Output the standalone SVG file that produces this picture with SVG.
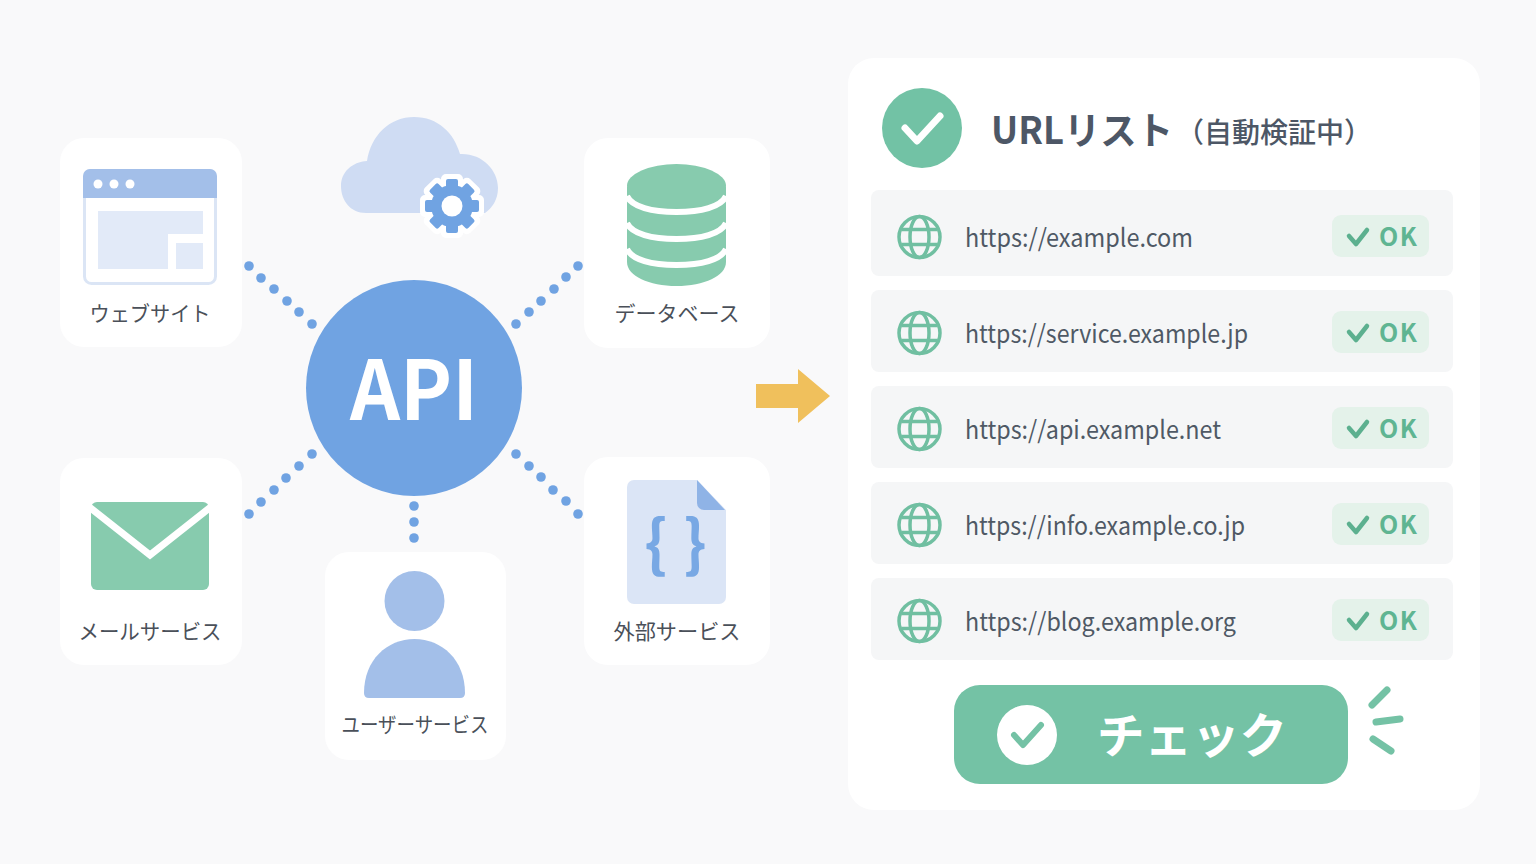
<svg xmlns="http://www.w3.org/2000/svg" width="1536" height="864" viewBox="0 0 1536 864">
<style>
.card{fill:#fff}
.lbl{font-family:"Noto Sans CJK JP","Noto Sans",sans-serif;font-size:21px;fill:#4a5059;text-anchor:middle}
.row{fill:#f5f6f7}
.url{font-family:"Noto Sans CJK JP","Noto Sans",sans-serif;font-size:25px;fill:#4f5965}
.badge{fill:#e4f2ea}
.ok{font-family:"Noto Sans CJK JP","Noto Sans",sans-serif;font-size:25px;font-weight:700;fill:#5fb592;letter-spacing:1.500px}
.gl{fill:none;stroke:#70bfa1;stroke-width:3.5}
.tick{fill:none;stroke:#5cb08f;stroke-width:4.5;stroke-linecap:round;stroke-linejoin:round}
.dot{fill:#70a3e2}
.spark{stroke:#74c2a5;stroke-width:7;stroke-linecap:round}
.cjkb{font-family:"Noto Sans CJK JP",sans-serif}
</style>
<defs>
<g id="globe">
<circle class="gl" cx="0" cy="0" r="20.5"/>
<ellipse class="gl" cx="0" cy="0" rx="9.500" ry="20.5"/>
<path class="gl" d="M-18-7.500H18M-18 7.500H18"/>
</g>
<g id="okb">
<rect class="badge" x="1332" y="-22" width="97" height="42" rx="9"/>
<path class="tick" d="M1349-1l7 8 11-14"/>
<text class="ok" x="1379" y="9">OK</text>
</g>
</defs>
<rect width="1536" height="864" fill="#f9f9fa"/>

<g id="connectors" class="dot">
<circle cx="249" cy="266" r="4.8"/><circle cx="261" cy="278" r="4.8"/><circle cx="274" cy="289" r="4.8"/><circle cx="287" cy="301" r="4.8"/><circle cx="299" cy="312" r="4.8"/><circle cx="312" cy="324" r="4.8"/>
<circle cx="516" cy="324" r="4.8"/><circle cx="529" cy="312" r="4.8"/><circle cx="541" cy="301" r="4.8"/><circle cx="554" cy="289" r="4.8"/><circle cx="566" cy="277" r="4.8"/><circle cx="578" cy="266" r="4.8"/>
<circle cx="249" cy="514" r="4.8"/><circle cx="261" cy="502" r="4.8"/><circle cx="274" cy="490" r="4.8"/><circle cx="286" cy="478" r="4.8"/><circle cx="299" cy="466" r="4.8"/><circle cx="312" cy="454" r="4.8"/>
<circle cx="516" cy="454" r="4.8"/><circle cx="529" cy="466" r="4.8"/><circle cx="541" cy="477" r="4.8"/><circle cx="553" cy="490" r="4.8"/><circle cx="566" cy="501" r="4.8"/><circle cx="578" cy="514" r="4.8"/>
<circle cx="414" cy="506" r="4.8"/><circle cx="414" cy="522" r="4.8"/><circle cx="414" cy="538" r="4.8"/>
</g>

<g id="node-web">
<rect class="card" x="60" y="138" width="182" height="209" rx="24"/>
<rect x="84.500" y="170.500" width="131" height="113" rx="7" fill="#fff" stroke="#dbe5f5" stroke-width="3"/>
<path d="M83 198V176a7 7 0 0 1 7-7H210a7 7 0 0 1 7 7V198Z" fill="#a3bfe9"/>
<circle cx="98" cy="184" r="4.500" fill="#fff"/><circle cx="114" cy="184" r="4.500" fill="#fff"/><circle cx="130" cy="184" r="4.500" fill="#fff"/>
<path d="M98 211H203V234H168V269H98Z" fill="#e2eaf8"/>
<rect x="176" y="243" width="27" height="26" fill="#e2eaf8"/>
<text class="lbl" x="150" y="321" textLength="121" lengthAdjust="spacingAndGlyphs">ウェブサイト</text>
</g>

<g id="node-cloud">
<path d="M366 213C350 213 341 200 341 186C341 172 352 162 367 161C371 135 390 117 414 117C438 117 454 133 460 154C482 153 498 170 498 188C498 200 492 208 485 213Z" fill="#cfdcf3"/>
<g fill="#fff" stroke="#fff" stroke-width="10" stroke-linejoin="round">
<circle cx="452" cy="206" r="21"/>
<rect x="446" y="179" width="12" height="54"/>
<rect x="446" y="179" width="12" height="54" transform="rotate(45 452 206)"/>
<rect x="446" y="179" width="12" height="54" transform="rotate(90 452 206)"/>
<rect x="446" y="179" width="12" height="54" transform="rotate(135 452 206)"/>
</g>
<g fill="#70a3e2">
<circle cx="452" cy="206" r="21"/>
<rect x="446" y="179" width="12" height="54" rx="2"/>
<rect x="446" y="179" width="12" height="54" rx="2" transform="rotate(45 452 206)"/>
<rect x="446" y="179" width="12" height="54" rx="2" transform="rotate(90 452 206)"/>
<rect x="446" y="179" width="12" height="54" rx="2" transform="rotate(135 452 206)"/>
</g>
<circle cx="452" cy="206" r="10.500" fill="#fff"/>
</g>

<g id="node-api">
<circle cx="414" cy="388" r="108" fill="#70a3e2"/>
<text class="cjkb" x="414" y="420" text-anchor="middle" font-size="82" font-weight="700" fill="#fff" textLength="128" lengthAdjust="spacingAndGlyphs">API</text>
</g>

<g id="node-db">
<rect class="card" x="584" y="138" width="186" height="210" rx="24"/>
<path d="M627 187V262C627 276 649 286 676.500 286C704 286 726 276 726 262V187Z" fill="#87cbae"/>
<ellipse cx="676.500" cy="186" rx="49.500" ry="22" fill="#87cbae"/>
<path d="M627 196C632 207 652 212 676.500 212C701 212 721 207 726 196M627 223C632 234 652 239 676.500 239C701 239 721 234 726 223M627 249C632 260 652 265 676.500 265C701 265 721 260 726 249" fill="none" stroke="#fff" stroke-width="6"/>
<text class="lbl" x="677" y="321" textLength="125" lengthAdjust="spacingAndGlyphs">データベース</text>
</g>

<g id="node-mail">
<rect class="card" x="60" y="458" width="182" height="207" rx="24"/>
<rect x="91" y="502" width="118" height="88" rx="6" fill="#87cbae"/>
<path d="M88 506L150 555L212 506" fill="none" stroke="#fff" stroke-width="7"/>
<text class="lbl" x="150" y="639" textLength="143" lengthAdjust="spacingAndGlyphs">メールサービス</text>
</g>

<g id="node-user">
<rect class="card" x="325" y="552" width="181" height="208" rx="24"/>
<circle cx="414.500" cy="601" r="30" fill="#a3bfe9"/>
<path d="M364 693C364 660 387 639 414.500 639C442 639 465 660 465 693Q465 698 460 698H369Q364 698 364 693Z" fill="#a3bfe9"/>
<text class="lbl" x="415" y="732" textLength="147" lengthAdjust="spacingAndGlyphs">ユーザーサービス</text>
</g>

<g id="node-ext">
<rect class="card" x="584" y="457" width="186" height="208" rx="24"/>
<path d="M634 480H697L726 510V597a7 7 0 0 1-7 7H634a7 7 0 0 1-7-7V487a7 7 0 0 1 7-7Z" fill="#dbe5f6"/>
<path d="M697 480L725 510H704a7 7 0 0 1-7-7Z" fill="#8fb3e6"/>
<text class="cjkb" x="656" y="566" text-anchor="middle" font-size="62" font-weight="700" fill="#78a8e4">{</text>
<text class="cjkb" x="695" y="566" text-anchor="middle" font-size="62" font-weight="700" fill="#78a8e4">}</text>
<text class="lbl" x="677" y="639" textLength="127" lengthAdjust="spacingAndGlyphs">外部サービス</text>
</g>

<g id="arrow">
<path d="M756 384H798V369L830 396L798 423V408H756Z" fill="#f0c05c"/>
</g>

<g id="panel">
<rect class="card" x="848" y="58" width="632" height="752" rx="26"/>
<circle cx="922" cy="128" r="40" fill="#72c2a5"/>
<path d="M905 128l12 13 23-25" fill="none" stroke="#fff" stroke-width="7" stroke-linecap="round" stroke-linejoin="round"/>
<text class="cjkb" x="991" y="144" font-size="38" font-weight="700" fill="#4d5766" textLength="182" lengthAdjust="spacingAndGlyphs">URLリスト</text>
<text class="cjkb" x="1176" y="143" font-size="28" font-weight="500" fill="#4d5766">（自動検証中）</text>
</g>

<g id="row-1">
<rect class="row" x="871" y="190" width="582" height="86" rx="8"/>
<use href="#globe" x="919.500" y="237"/>
<text class="url" x="965" y="247" textLength="228" lengthAdjust="spacingAndGlyphs">https://example.com</text>
<use href="#okb" y="237"/>
</g>
<g id="row-2">
<rect class="row" x="871" y="290" width="582" height="82" rx="8"/>
<use href="#globe" x="919.500" y="333"/>
<text class="url" x="965" y="343" textLength="283" lengthAdjust="spacingAndGlyphs">https://service.example.jp</text>
<use href="#okb" y="333"/>
</g>
<g id="row-3">
<rect class="row" x="871" y="386" width="582" height="82" rx="8"/>
<use href="#globe" x="919.500" y="439" transform="translate(0 -10)"/>
<text class="url" x="965" y="439" textLength="256" lengthAdjust="spacingAndGlyphs">https://api.example.net</text>
<use href="#okb" y="429"/>
</g>
<g id="row-4">
<rect class="row" x="871" y="482" width="582" height="82" rx="8"/>
<use href="#globe" x="919.500" y="525"/>
<text class="url" x="965" y="535" textLength="280" lengthAdjust="spacingAndGlyphs">https://info.example.co.jp</text>
<use href="#okb" y="525"/>
</g>
<g id="row-5">
<rect class="row" x="871" y="578" width="582" height="82" rx="8"/>
<use href="#globe" x="919.500" y="621"/>
<text class="url" x="965" y="631" textLength="271" lengthAdjust="spacingAndGlyphs">https://blog.example.org</text>
<use href="#okb" y="621"/>
</g>

<g id="check-button">
<rect x="954" y="685" width="394" height="99" rx="26" fill="#74c2a5"/>
<circle cx="1027" cy="735" r="30" fill="#fff"/>
<path d="M1014 735l9 10 18-20" fill="none" stroke="#74c2a5" stroke-width="6" stroke-linecap="round" stroke-linejoin="round"/>
<text class="cjkb" x="1097" y="753" font-size="48" font-weight="700" fill="#fff" textLength="190" lengthAdjust="spacingAndGlyphs">チェック</text>
<path class="spark" d="M1372 705L1387 690M1376 722L1400 719M1373 739L1391 751"/>
</g>
</svg>
